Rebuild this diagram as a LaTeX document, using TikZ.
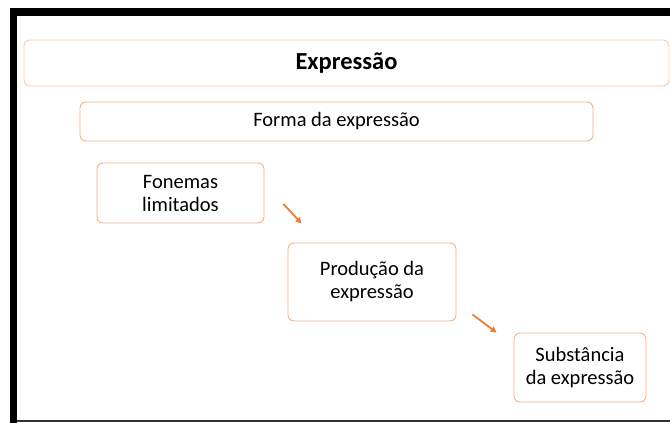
\documentclass[tikz,border=0pt]{standalone}
\usepackage{fontspec}
\setmainfont{Carlito}
\usepackage{tikz}
\usetikzlibrary{arrows.meta}
\usetikzlibrary{calc}
\usetikzlibrary{positioning}
\definecolor{peach}{RGB}{248,203,173}
\definecolor{peachdark}{RGB}{244,177,131}
\definecolor{arroworange}{RGB}{237,125,49}

\begin{document}
\begin{tikzpicture}[
		% one unit = one pixel of the slide
		x=1pt, y=-1pt,
		line join=round, >=Triangle,
		box/.style={draw=peachdark, line width=0.9pt, rounded corners=6pt,
				fill=white, align=center, inner sep=2pt, font=\fontsize{20.5}{23}\selectfont},
		flow/.style={->, arroworange, line width=1.8pt, >={Triangle[length=6pt,width=6pt]}}
	]

	\useasboundingbox (0,0) rectangle (670,423);

	%-------------------
	% Slide frame
	%-------------------
	\fill[black] (10,8) rectangle (670,16);
	\fill[black] (10,8) rectangle (17,423);
	\draw[black!80, line width=1.2pt] (17,421) -- (670,421);

	%-------------------
	% Boxes
	%-------------------
	\node[box, draw=peach, minimum width=645pt, minimum height=46pt, font=\fontsize{24.5}{28}\selectfont\bfseries]
	(expr) at (346.5,63) {Expressão};
	\node[box, minimum width=513pt, minimum height=39pt] (forma) at (336.5,121.5) {Forma da expressão};

	\node[box, minimum width=167pt, minimum height=60pt] (fonemas) at (180.5,193) {Fonemas\\limitados};
	\node[box, minimum width=168pt, minimum height=78pt] (producao) at (372,282) {Produção da\\expressão};
	\node[box, minimum width=132pt, minimum height=69pt] (subst) at (580,367.5) {Substância\\da expressão};

	%-------------------
	% Arrows
	%-------------------
	\coordinate (a1s) at ($(fonemas.east)+(19,11)$);
	\coordinate (a1e) at ($(producao.north west)+(14,-19)$);
	\coordinate (a2s) at ($(producao.south east)+(16,-7)$);
	\coordinate (a2e) at ($(subst.north west)+(-17,0)$);

	\draw[flow] (a1s) -- (a1e);
	\draw[flow] (a2s) -- (a2e);

\end{tikzpicture}
\end{document}
